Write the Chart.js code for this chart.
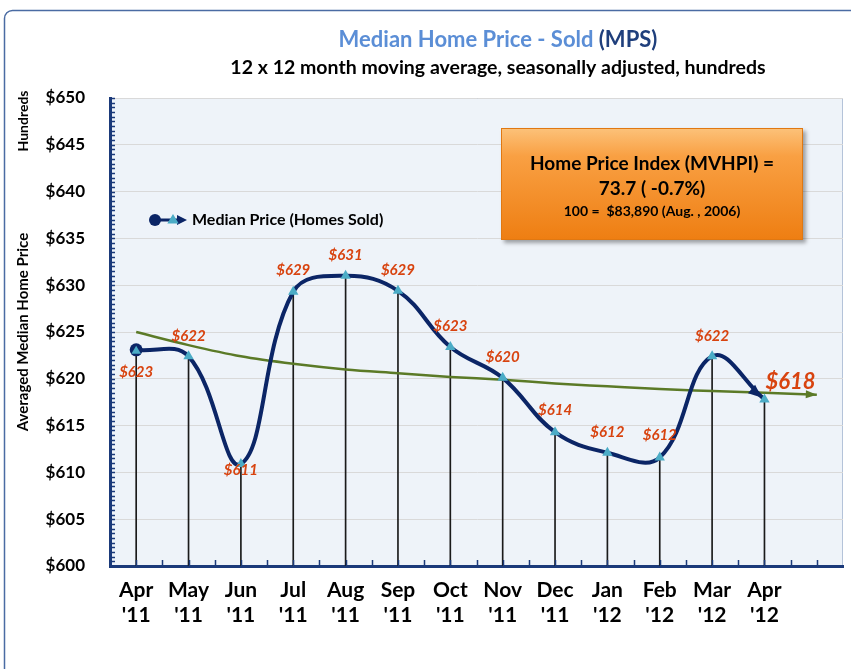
<!DOCTYPE html>
<html>
<head>
<meta charset="utf-8">
<title>Median Home Price - Sold (MPS)</title>
<script src="https://cdn.jsdelivr.net/npm/chart.js@4.4.0/dist/chart.umd.min.js"></script>
<style>
  html, body { margin: 0; padding: 0; background: #fff; }
  #wrap { width: 851px; height: 669px; position: relative; }
</style>
</head>
<body>
<div id="wrap"><canvas id="mpsChart" width="851" height="669"></canvas></div>
<script>
// Data (hundreds of dollars)
const months = [
  ["Apr", "'11"], ["May", "'11"], ["Jun", "'11"], ["Jul", "'11"], ["Aug", "'11"],
  ["Sep", "'11"], ["Oct", "'11"], ["Nov", "'11"], ["Dec", "'11"], ["Jan", "'12"],
  ["Feb", "'12"], ["Mar", "'12"], ["Apr", "'12"], ""
];
const medianPrice = [623.1, 622.4, 610.9, 629.3, 631.0, 629.4, 623.4, 620.1, 614.3, 612.1, 611.6, 622.4, 617.8, null];
const trendLine = [625.0, 623.6, 622.4, 621.6, 621.0, 620.6, 620.2, 619.9, 619.5, 619.2, 618.9, 618.7, 618.5, 618.3];
const priceLabels = ["$623", "$622", "$611", "$629", "$631", "$629", "$623", "$620", "$614", "$612", "$612", "$622", "$618"];
const yMin = 600, yMax = 650, yStep = 5;

const titleMain = "Median Home Price - Sold ";
const titleTag = "(MPS)";
const subTitle = "12 x 12 month moving average, seasonally adjusted, hundreds";
const indexLines = ["Home Price Index (MVHPI) =", "73.7 ( -0.7%)", "100 =  $83,890 (Aug. , 2006)"];

const NAVY = "#0b2566";
const AXIS = "#1b3a7a";
const TRI = "#4bacc6";
const OLIVE = "#5b7a27";
const LABEL = "#d8430f";
const FONT = "Lato, 'Open Sans', sans-serif";

function text(ctx, str, x, y, font, color, align) {
  ctx.save();
  ctx.font = font;
  ctx.fillStyle = color;
  ctx.textAlign = align || "center";
  ctx.textBaseline = "middle";
  ctx.fillText(str, x, y);
  ctx.restore();
}

function arrowHead(ctx, fromX, fromY, x, y, len, wid, color) {
  const a = Math.atan2(y - fromY, x - fromX);
  ctx.save();
  ctx.translate(x, y);
  ctx.rotate(a);
  ctx.fillStyle = color;
  ctx.beginPath();
  ctx.moveTo(0, 0);
  ctx.lineTo(-len, -wid / 2);
  ctx.lineTo(-len, wid / 2);
  ctx.closePath();
  ctx.fill();
  ctx.restore();
}

function triangle(ctx, x, y, r, color) {
  ctx.save();
  ctx.fillStyle = color;
  ctx.beginPath();
  ctx.moveTo(x, y - r);
  ctx.lineTo(x + r * 0.95, y + r * 0.6);
  ctx.lineTo(x - r * 0.95, y + r * 0.6);
  ctx.closePath();
  ctx.fill();
  ctx.restore();
}

// Background, frame, titles, legend, labels and the index box
const decorations = {
  id: "decorations",
  beforeDraw(chart) {
    const { ctx, chartArea: a } = chart;
    ctx.save();
    ctx.fillStyle = "#ffffff";
    ctx.fillRect(0, 0, chart.width, chart.height);
    ctx.strokeStyle = "#4a6ba3";
    ctx.lineWidth = 1.5;
    ctx.beginPath();
    ctx.roundRect(4.5, 10.5, 900, 720, 8);
    ctx.stroke();
    ctx.fillStyle = "#eef3f9";
    ctx.fillRect(a.left, a.top, a.width, a.height);
    ctx.strokeStyle = "#b4c3d9";
    ctx.lineWidth = 1;
    ctx.strokeRect(a.left + 0.5, a.top + 0.5, a.width - 1, a.height);
    ctx.restore();
  },
  beforeDatasetDraw(chart, args) {
    const { ctx } = chart;
    const pts = args.meta.data;
    if (args.index === 0) {
      const p = pts[12];
      arrowHead(ctx, p.cp1x, p.cp1y, p.x - 3, p.y - 2, 13, 11, NAVY);
    }
    if (args.index === 1) {
      const p = pts[pts.length - 1];
      arrowHead(ctx, p.cp1x, p.cp1y, p.x, p.y, 11, 8, OLIVE);
    }
  },
  afterDraw(chart) {
    const { ctx, chartArea: a, scales } = chart;
    const xs = scales.x, ys = scales.y;

    // minor ticks on the axes
    ctx.save();
    ctx.strokeStyle = AXIS;
    ctx.lineWidth = 1.5;
    ctx.beginPath();
    for (let i = 0; i <= (yMax - yMin) * 2; i++) {
      const y = Math.round(ys.getPixelForValue(yMin + i / 2)) + 0.5;
      ctx.moveTo(a.left, y);
      ctx.lineTo(a.left + 5, y);
    }
    const half = (xs.getPixelForValue(1) - xs.getPixelForValue(0)) / 2;
    for (let i = 0; i < months.length; i++) {
      const cx = xs.getPixelForValue(i);
      [cx - half, cx].forEach(x => {
        ctx.moveTo(Math.round(x) + 0.5, a.bottom);
        ctx.lineTo(Math.round(x) + 0.5, a.bottom - 6);
      });
    }
    ctx.stroke();
    ctx.restore();

    // first point: triangle inside the circle
    const main = chart.getDatasetMeta(0).data;
    triangle(ctx, main[0].x, main[0].y + 1, 5, TRI);

    // titles
    ctx.save();
    ctx.font = "bold 22px " + FONT;
    const w1 = ctx.measureText(titleMain).width;
    const w2 = ctx.measureText(titleTag).width;
    ctx.restore();
    const tx = 498 - (w1 + w2) / 2;
    text(ctx, titleMain, tx, 40, "bold 22px " + FONT, "#5b8ed6", "left");
    text(ctx, titleTag, tx + w1, 40, "bold 22px " + FONT, "#1f3f7c", "left");
    text(ctx, subTitle, 498, 68, "bold 19.5px " + FONT, "#000", "center");

    // "Hundreds" display unit label
    ctx.save();
    ctx.translate(23, 121);
    ctx.rotate(-Math.PI / 2);
    text(ctx, "Hundreds", 0, 0, "bold 14px " + FONT, "#000", "center");
    ctx.restore();

    // legend
    ctx.save();
    ctx.strokeStyle = NAVY;
    ctx.lineWidth = 3;
    ctx.beginPath();
    ctx.moveTo(155, 220);
    ctx.lineTo(180, 220);
    ctx.stroke();
    ctx.fillStyle = NAVY;
    ctx.beginPath();
    ctx.arc(155, 220, 6, 0, Math.PI * 2);
    ctx.fill();
    ctx.restore();
    arrowHead(ctx, 170, 220, 187, 220, 10, 10, NAVY);
    triangle(ctx, 173, 220, 6, TRI);
    text(ctx, chart.data.datasets[0].label, 192, 220, "bold 16px " + FONT, "#000", "left");

    // data labels
    const offsets = [[0, 22], [0, -20], [0, 6], [0, -22], [0, -21], [0, -21], [0, -21],
      [0, -21], [0, -22], [0, -21], [0, -22], [0, -20], [26, -17]];
    priceLabels.forEach((lbl, i) => {
      const p = main[i];
      const big = i === priceLabels.length - 1;
      text(ctx, lbl, p.x + offsets[i][0], p.y + offsets[i][1],
        "italic bold " + (big ? 22 : 15) + "px " + FONT, LABEL, "center");
    });

    // index box
    const bx = 501, by = 128, bw = 302, bh = 112;
    ctx.save();
    ctx.shadowColor = "rgba(0,0,0,0.35)";
    ctx.shadowOffsetX = 3;
    ctx.shadowOffsetY = 3;
    ctx.shadowBlur = 4;
    const g = ctx.createLinearGradient(0, by, 0, by + bh);
    g.addColorStop(0, "#fcc27a");
    g.addColorStop(0.25, "#f9a043");
    g.addColorStop(1, "#ee7e12");
    ctx.fillStyle = g;
    ctx.fillRect(bx, by, bw, bh);
    ctx.shadowColor = "transparent";
    ctx.strokeStyle = "#e07812";
    ctx.lineWidth = 1;
    ctx.strokeRect(bx + 0.5, by + 0.5, bw - 1, bh - 1);
    ctx.restore();
    text(ctx, indexLines[0], bx + bw / 2, 164, "bold 19px " + FONT, "#000", "center");
    text(ctx, indexLines[1], bx + bw / 2, 189, "bold 19px " + FONT, "#000", "center");
    text(ctx, indexLines[2], bx + bw / 2, 211, "bold 14px " + FONT, "#000", "center");
  }
};

async function draw() {
  try {
    await Promise.all([
      document.fonts.load("bold 16px Lato"),
      document.fonts.load("italic bold 16px Lato")
    ]);
  } catch (e) {
    console.error("font load failed", e);
  }

  const ctx = document.getElementById("mpsChart").getContext("2d");
  new Chart(ctx, {
    type: "line",
    data: {
      labels: months,
      datasets: [
        {
          type: "line",
          label: "Median Price (Homes Sold)",
          data: medianPrice,
          borderColor: NAVY,
          borderWidth: 4,
          tension: 0.4,
          pointStyle: medianPrice.map((v, i) => (i === 0 ? "circle" : "triangle")),
          pointRadius: medianPrice.map((v, i) => (i === 0 ? 6.5 : 6)),
          pointBackgroundColor: medianPrice.map((v, i) => (i === 0 ? NAVY : TRI)),
          pointBorderWidth: 0,
          order: 1
        },
        {
          type: "line",
          label: "Trend",
          data: trendLine,
          borderColor: OLIVE,
          borderWidth: 2.5,
          cubicInterpolationMode: "monotone",
          pointRadius: 0,
          order: 2
        },
        {
          type: "bar",
          label: "drop",
          data: medianPrice,
          backgroundColor: "#1a1a1a",
          barThickness: 1,
          order: 3
        }
      ]
    },
    options: {
      responsive: false,
      animation: false,
      devicePixelRatio: 1,
      layout: { padding: { top: 98, right: 8, left: 0, bottom: 0 } },
      scales: {
        x: {
          type: "category",
          offset: true,
          grid: { display: false, drawTicks: false },
          border: { color: AXIS, width: 3 },
          ticks: {
            color: "#000",
            padding: 12,
            maxRotation: 0,
            autoSkip: false,
            font: { family: FONT, size: 21, weight: "bold", lineHeight: 1.18 }
          },
          afterFit(s) { s.height = 103; }
        },
        y: {
          min: yMin,
          max: yMax,
          grid: { color: "#d9d9d9", lineWidth: 1, drawTicks: false },
          border: { color: AXIS, width: 3 },
          ticks: {
            stepSize: yStep,
            color: "#000",
            padding: 25,
            font: { family: FONT, size: 17, weight: "bold" },
            callback: v => "$" + v
          },
          title: {
            display: true,
            text: "Averaged Median Home Price",
            color: "#000",
            font: { family: FONT, size: 15, weight: "bold" },
            padding: { top: 14, bottom: 0 }
          },
          afterFit(s) { s.width = 110; }
        }
      },
      plugins: {
        legend: { display: false },
        tooltip: { enabled: false }
      }
    },
    plugins: [decorations]
  });
}

draw();
</script>
</body>
</html>
